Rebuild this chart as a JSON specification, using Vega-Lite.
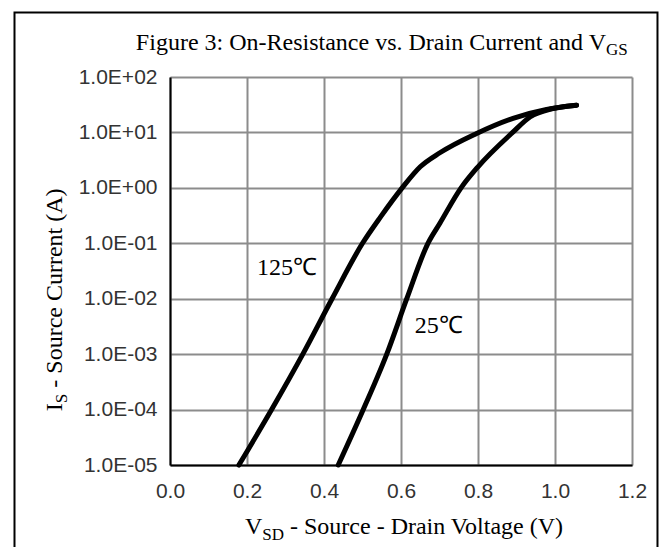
{
  "$schema": "https://vega.github.io/schema/vega-lite/v6.json",
  "width": 462,
  "height": 388,
  "autosize": {"type": "none"},
  "padding": {"left": 170, "top": 77, "right": 29, "bottom": 82},
  "background": "white",
  "config": {"view": {"stroke": null}},
  "datasets": {
    "curves": [
      {"t": "125C", "v": 0.179, "i": 0.00001},
      {"t": "125C", "v": 0.264, "i": 0.0001},
      {"t": "125C", "v": 0.345, "i": 0.001},
      {"t": "125C", "v": 0.421, "i": 0.01},
      {"t": "125C", "v": 0.500, "i": 0.1},
      {"t": "125C", "v": 0.547, "i": 0.30},
      {"t": "125C", "v": 0.603, "i": 1.0},
      {"t": "125C", "v": 0.650, "i": 2.4},
      {"t": "125C", "v": 0.701, "i": 4.3},
      {"t": "125C", "v": 0.795, "i": 9.5},
      {"t": "125C", "v": 0.891, "i": 18},
      {"t": "125C", "v": 0.978, "i": 26},
      {"t": "125C", "v": 1.056, "i": 31},
      {"t": "25C", "v": 0.437, "i": 0.00001},
      {"t": "25C", "v": 0.502, "i": 0.0001},
      {"t": "25C", "v": 0.563, "i": 0.001},
      {"t": "25C", "v": 0.615, "i": 0.01},
      {"t": "25C", "v": 0.670, "i": 0.1},
      {"t": "25C", "v": 0.701, "i": 0.23},
      {"t": "25C", "v": 0.756, "i": 1.0},
      {"t": "25C", "v": 0.800, "i": 2.4},
      {"t": "25C", "v": 0.890, "i": 10},
      {"t": "25C", "v": 0.935, "i": 19},
      {"t": "25C", "v": 0.995, "i": 27},
      {"t": "25C", "v": 1.056, "i": 31}
    ],
    "labels": [
      {"label": "125℃", "v": 0.226, "i": 0.0268},
      {"label": "25℃", "v": 0.636, "i": 0.00241}
    ]
  },
  "layer": [
    {
      "data": {"name": "curves"},
      "mark": {"type": "line", "color": "black", "strokeWidth": 5, "strokeCap": "round", "strokeJoin": "round", "interpolate": "monotone"},
      "encoding": {
        "x": {
          "field": "v", "type": "quantitative",
          "scale": {"domain": [0, 1.2], "nice": false, "zero": false},
          "axis": {
            "title": null, "values": [0, 0.2, 0.4, 0.6, 0.8, 1.0, 1.2], "format": ".1f",
            "grid": true, "gridColor": "#8c8c8c", "gridWidth": 2,
            "domainColor": "black", "domainWidth": 2, "ticks": false,
            "labelFont": "Liberation Sans", "labelFontSize": 21, "labelColor": "#333333",
            "labelPadding": 15, "labelFlush": false
          }
        },
        "y": {
          "field": "i", "type": "quantitative",
          "scale": {"type": "log", "domain": [0.00001, 100], "nice": false},
          "axis": {
            "title": null,
            "values": [0.00001, 0.0001, 0.001, 0.01, 0.1, 1, 10, 100],
            "labelExpr": "'1.0E' + (datum.value >= 1 ? '+' : '-') + (abs(round(log(datum.value)/LN10)) < 10 ? '0' : '') + abs(round(log(datum.value)/LN10))",
            "grid": true, "gridColor": "#8c8c8c", "gridWidth": 2,
            "domainColor": "black", "domainWidth": 2, "ticks": false,
            "labelFont": "Liberation Sans", "labelFontSize": 21, "labelColor": "#333333",
            "labelPadding": 13, "labelFlush": false
          }
        },
        "detail": {"field": "t", "type": "nominal"}
      }
    },
    {
      "data": {"name": "labels"},
      "mark": {"type": "text", "align": "left", "baseline": "alphabetic", "font": "Liberation Serif", "fontSize": 24, "color": "black"},
      "encoding": {
        "x": {"field": "v", "type": "quantitative"},
        "y": {"field": "i", "type": "quantitative"},
        "text": {"field": "label"}
      }
    },
    {
      "data": {"values": [{}]},
      "mark": {"type": "rect", "fillOpacity": 0, "stroke": "black", "strokeWidth": 2},
      "encoding": {
        "x": {"datum": -0.4039, "type": "quantitative"},
        "x2": {"datum": 1.2662},
        "y": {"datum": 1457.6, "type": "quantitative"},
        "y2": {"datum": 0.00000019}
      }
    },
    {
      "data": {"values": [{}]},
      "mark": {"type": "text", "text": "Figure 3: On-Resistance vs. Drain Current and V", "align": "right", "baseline": "alphabetic", "font": "Liberation Serif", "fontSize": 24, "color": "black"},
      "encoding": {
        "x": {"datum": 1.1325, "type": "quantitative"},
        "y": {"datum": 307, "type": "quantitative"}
      }
    },
    {
      "data": {"values": [{}]},
      "mark": {"type": "text", "text": "GS", "align": "left", "baseline": "alphabetic", "font": "Liberation Serif", "fontSize": 17, "dy": 5, "color": "black"},
      "encoding": {
        "x": {"datum": 1.1325, "type": "quantitative"},
        "y": {"datum": 307, "type": "quantitative"}
      }
    },
    {
      "data": {"values": [{}]},
      "mark": {"type": "text", "text": "V", "align": "left", "baseline": "alphabetic", "font": "Liberation Serif", "fontSize": 24, "color": "black"},
      "encoding": {
        "x": {"datum": 0.1948, "type": "quantitative"},
        "y": {"datum": 0.000000569, "type": "quantitative"}
      }
    },
    {
      "data": {"values": [{}]},
      "mark": {"type": "text", "text": "SD", "align": "left", "baseline": "alphabetic", "font": "Liberation Serif", "fontSize": 17, "dx": 17.3, "dy": 6, "color": "black"},
      "encoding": {
        "x": {"datum": 0.1948, "type": "quantitative"},
        "y": {"datum": 0.000000569, "type": "quantitative"}
      }
    },
    {
      "data": {"values": [{}]},
      "mark": {"type": "text", "text": "- Source - Drain Voltage (V)", "align": "left", "baseline": "alphabetic", "font": "Liberation Serif", "fontSize": 24, "dx": 45, "color": "black"},
      "encoding": {
        "x": {"datum": 0.1948, "type": "quantitative"},
        "y": {"datum": 0.000000569, "type": "quantitative"}
      }
    },
    {
      "data": {"values": [{}]},
      "mark": {"type": "text", "text": "I", "align": "left", "baseline": "alphabetic", "angle": 270, "font": "Liberation Serif", "fontSize": 24, "color": "black"},
      "encoding": {
        "x": {"datum": -0.2805, "type": "quantitative"},
        "y": {"datum": 0.0000935, "type": "quantitative"}
      }
    },
    {
      "data": {"values": [{}]},
      "mark": {"type": "text", "text": "S", "align": "left", "baseline": "alphabetic", "angle": 270, "font": "Liberation Serif", "fontSize": 17, "dx": 8, "dy": 5, "color": "black"},
      "encoding": {
        "x": {"datum": -0.2805, "type": "quantitative"},
        "y": {"datum": 0.0000935, "type": "quantitative"}
      }
    },
    {
      "data": {"values": [{}]},
      "mark": {"type": "text", "text": "- Source Current (A)", "align": "left", "baseline": "alphabetic", "angle": 270, "font": "Liberation Serif", "fontSize": 24, "dx": 23.5, "color": "black"},
      "encoding": {
        "x": {"datum": -0.2805, "type": "quantitative"},
        "y": {"datum": 0.0000935, "type": "quantitative"}
      }
    }
  ]
}
